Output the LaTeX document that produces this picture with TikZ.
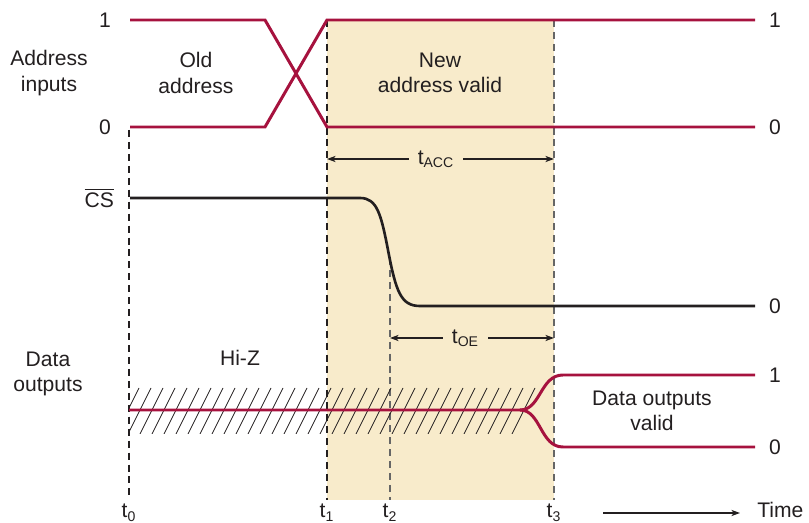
\documentclass[tikz,border=0pt]{standalone}
\usepackage{fontspec}
\setmainfont{Liberation Sans}
\usepackage{tikz}
\usetikzlibrary{arrows.meta}
\usepackage{xcolor}
\definecolor{sigred}{RGB}{166,18,62}
\definecolor{validbg}{RGB}{248,235,203}
\definecolor{txtgray}{RGB}{35,31,32}

\begin{document}
\begin{tikzpicture}[x=0.02cm,y=-0.02cm,
    font=\fontsize{12}{14.4}\selectfont,
    every node/.style={text=txtgray},
    sig/.style={sigred,line width=1.7pt},
    cssig/.style={txtgray,line width=1.5pt},
    tmark/.style={dash pattern=on 4pt off 2.8pt,line width=0.6pt},
    dimline/.style={{Stealth[length=5pt,width=3.6pt]}-{Stealth[length=5pt,width=3.6pt]},line width=0.6pt,txtgray},
    lvl/.style={inner sep=1pt},
    lbl/.style={align=center,inner sep=1pt}]
  \useasboundingbox (0,0) rectangle (809,523);
  % access window
  \fill[validbg] (327,20) rectangle (554,500);
  % time marks
  \coordinate (t0top) at (129,130);  \coordinate (t0bot) at (129,500);
  \coordinate (t1top) at (327,20);   \coordinate (t1bot) at (327,500);
  \coordinate (t2top) at (390,258);  \coordinate (t2bot) at (390,500);
  \coordinate (t3top) at (554,20);   \coordinate (t3bot) at (554,500);
  \draw[tmark,txtgray] (t0top) -- (t0bot);
  \draw[tmark,txtgray] (t1top) -- (t1bot);
  \draw[tmark,black!60] (t2top) -- (t2bot);
  \draw[tmark,black!60] (t3top) -- (t3bot);
  \foreach \n/\x in {0/129,1/327,2/390,3/554}{
    \node[anchor=north,inner sep=0pt] (tl\n) at (\x,504) {t\textsubscript{\n}};
  }
  % address inputs
  \draw[sig] (130,20) -- (265,20) -- (327,127) -- (755,127);
  \draw[sig] (130,127) -- (265,127) -- (327,20) -- (755,20);
  \node[lvl] (a1l) at (105,20) {1};
  \node[lvl] (a0l) at (105,127) {0};
  \node[lvl] (a1r) at (775,20) {1};
  \node[lvl] (a0r) at (775,127) {0};
  \node[lbl] (addr) at (49,73) {Address\\inputs};
  \node[lbl] (oldaddr) at (196,73) {Old\\address};
  \node[lbl] (newaddr) at (440,73) {New\\address valid};
  % chip select
  \draw[cssig] (130,198) -- (360,198)
    .. controls (377,198) and (381,214) .. (388,250)
    .. controls (396,292) and (401,306) .. (420,306) -- (755,306);
  \node[anchor=east,inner sep=1pt] (cs) at (116,198) {$\overline{\mbox{CS}}$};
  \node[lvl] (cs0) at (775,306) {0};
  % access times
  \coordinate (acc1) at (327,159); \coordinate (acc3) at (554,159);
  \draw[dimline] (acc1) -- node[fill=validbg,inner xsep=5pt,pos=0.48] (tacc) {t\textsubscript{ACC}} (acc3);
  \coordinate (oe2) at (390,338); \coordinate (oe3) at (554,338);
  \draw[dimline] (oe2) -- node[fill=validbg,inner xsep=5pt,pos=0.46] (toe) {t\textsubscript{OE}} (oe3);
  % data outputs
  \begin{scope}
    \clip (129,388) rectangle (540,434);
    \foreach \x in {104,116,...,512}{
      \draw[line width=0.5pt,txtgray] (\x,434) -- (\x+23,388);
    }
  \end{scope}
  \draw[sig] (129,410) -- (520,410) .. controls (541,410) and (540,375) .. (563,375) -- (755,375);
  \draw[sig] (520,410) .. controls (541,410) and (540,447) .. (563,447) -- (755,447);
  \node[lbl] (dout) at (48,374) {Data\\outputs};
  \node[lbl] (hiz) at (240,358) {Hi-Z};
  \node[lbl] (dvalid) at (652,411) {Data outputs\\valid};
  \node[lvl] (d1r) at (775,375) {1};
  \node[lvl] (d0r) at (775,447) {0};
  % time axis
  \node[anchor=west,inner sep=0pt] (time) at (757,510) {Time};
  \coordinate (tstart) at (603,513);
  \coordinate (tend) at (740,513);
  \draw[-{Stealth[length=5pt,width=3.6pt]},line width=0.6pt,txtgray] (tstart) -- (tend);
\end{tikzpicture}
\end{document}
